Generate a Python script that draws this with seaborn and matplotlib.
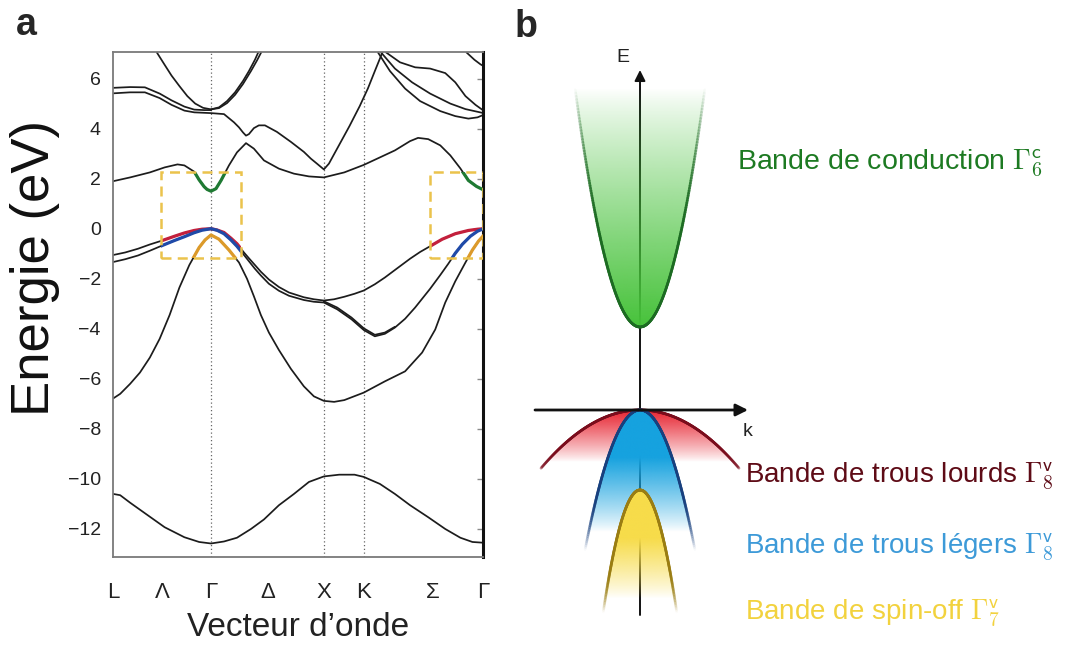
import numpy as np
import pandas as pd
import matplotlib
matplotlib.use("Agg")
import matplotlib.pyplot as plt
import seaborn as sns
from matplotlib.patches import Rectangle, Polygon
from matplotlib.collections import LineCollection
from matplotlib.colors import to_rgb, to_rgba

# ---------------- data : panel a (band structure) ----------------
sym_labels = ["L", "Λ", "Γ", "Δ", "X", "K", "Σ", "Γ"]
sym_pos = [0.0, 0.433, 0.866, 1.366, 1.866, 2.220, 2.83, 3.281]
vline_pos = [0.866, 1.866, 2.220, 3.281]
y_ticks = [-12, -10, -8, -6, -4, -2, 0, 2, 4, 6]

k_s = [0, .061, .149, .280, .455, .630, .761, .866, .981, 1.096, 1.220, 1.335, 1.468, 1.601,
       1.734, 1.866, 2.002, 2.138, 2.220, 2.363, 2.496, 2.630, 2.791, 2.942, 3.076, 3.183, 3.281]
E_s = [-10.6, -10.65, -10.95, -11.37, -11.93, -12.33, -12.52, -12.58, -12.5, -12.35, -12.0, -11.62,
       -11.05, -10.6, -10.12, -9.9, -9.83, -9.83, -9.92, -10.2, -10.6, -11.05, -11.53, -12.0,
       -12.35, -12.52, -12.55]

k_so = [0, .061, .149, .236, .324, .411, .499, .586, .674, .761, .813, .866, .937, 1.025, 1.114,
        1.185, 1.246, 1.308, 1.379, 1.468, 1.574, 1.689, 1.778, 1.866, 1.957, 2.047, 2.220, 2.407,
        2.586, 2.737, 2.853, 2.942, 3.031, 3.121, 3.183, 3.236, 3.281]
E_so = [-6.78, -6.6, -6.2, -5.75, -5.15, -4.4, -3.45, -2.35, -1.45, -0.75, -0.45, -0.25, -0.42,
        -0.85, -1.35, -2.0, -2.7, -3.45, -4.15, -4.85, -5.6, -6.3, -6.7, -6.88, -6.92, -6.85,
        -6.55, -6.1, -5.7, -4.95, -4.03, -2.95, -2.1, -1.35, -0.85, -0.5, -0.27]

k_hh = [0, .105, .219, .324, .429, .543, .630, .717, .787, .866,
        .919, .981, 1.043, 1.096, 1.158, 1.202, 1.255, 1.308, 1.379, 1.468, 1.557, 1.689, 1.778, 1.866,
        1.957, 2.047, 2.138, 2.220, 2.318, 2.407, 2.496, 2.630, 2.719, 2.808, 2.915, 3.031, 3.147,
        3.228, 3.281]
E_hh = [-1.05, -0.95, -0.8, -0.63, -0.48, -0.3, -0.17, -0.07, -0.02, 0,
        -0.05, -0.15, -0.38, -0.6, -0.95, -1.18, -1.45, -1.72, -2.03, -2.33, -2.55, -2.74, -2.82, -2.87,
        -2.82, -2.72, -2.6, -2.47, -2.22, -1.95, -1.65, -1.2, -0.93, -0.7, -0.42, -0.2, -0.07,
        -0.02, 0]

k_lh = [0, .105, .219, .324, .429, .543, .630, .717, .787, .866,
        .919, .981, 1.043, 1.096, 1.158, 1.202, 1.255, 1.308, 1.379, 1.468, 1.557, 1.689, 1.778, 1.866,
        1.984, 2.111, 2.220, 2.318, 2.407, 2.496, 2.586, 2.675, 2.737, 2.808, 2.898, 2.969, 3.031,
        3.094, 3.165, 3.228, 3.281]
E_lh = [-1.33, -1.22, -1.07, -0.88, -0.68, -0.47, -0.32, -0.16, -0.06, 0,
        -0.06, -0.2, -0.45, -0.7, -1.05, -1.3, -1.6, -1.87, -2.2, -2.48, -2.68, -2.85, -2.92, -2.95,
        -3.22, -3.62, -4.05, -4.3, -4.2, -3.95, -3.6, -3.15, -2.8, -2.4, -1.85, -1.4, -0.98,
        -0.62, -0.3, -0.1, 0]

k_lh2 = [1.866, 1.984, 2.111, 2.220, 2.318, 2.407, 2.496]
E_lh2 = [-2.9, -3.15, -3.55, -3.98, -4.24, -4.15, -3.92]

k_c1 = [0, .149, .324, .455, .569, .630, .717, .761, .805, .831, .866, .910, .955, 1.025, 1.096,
        1.176, 1.246, 1.335, 1.468, 1.601, 1.734, 1.866, 2.047, 2.220, 2.363, 2.496, 2.630, 2.701,
        2.791, 2.898, 2.987, 3.076, 3.147, 3.219, 3.281]
E_c1 = [1.9, 2.05, 2.25, 2.45, 2.57, 2.53, 2.28, 1.95, 1.68, 1.57, 1.5, 1.6, 1.93, 2.53, 3.05,
        3.42, 3.2, 2.73, 2.4, 2.2, 2.09, 2.05, 2.25, 2.55, 2.85, 3.13, 3.5, 3.63, 3.58, 3.33, 2.93,
        2.41, 1.93, 1.69, 1.55]

k_c2 = [0, .149, .280, .411, .516, .630, .717, .866, .981, 1.070, 1.114, 1.149, 1.176, 1.202, 1.246,
        1.290, 1.344, 1.450, 1.574, 1.689, 1.751, 1.805, 1.866, 1.911, 2.002, 2.093, 2.184, 2.256,
        2.318, 2.363, 2.398]
E_c2 = [5.41, 5.45, 5.45, 5.22, 4.95, 4.72, 4.65, 4.62, 4.58, 4.25, 4.05, 3.85, 3.72, 3.78, 4.02,
        4.13, 4.13, 3.87, 3.47, 3.07, 2.8, 2.6, 2.37, 2.6, 3.35, 4.1, 4.9, 5.6, 6.3, 6.8, 7.2]

k_c2b = [0, .149, .280, .411, .516, .630, .717, .805, .866]
E_c2b = [5.63, 5.66, 5.65, 5.4, 5.13, 4.88, 4.76, 4.74, 4.74]

k_c3 = [.385, .455, .516, .586, .656, .726, .796, .866, .937, 1.008, 1.079, 1.149, 1.202, 1.255, 1.290]
E_c3 = [7.05, 6.55, 6.12, 5.7, 5.3, 5.0, 4.83, 4.77, 4.85, 5.1, 5.45, 5.9, 6.3, 6.75, 7.1]

k_c3b = [.866, .937, 1.008, 1.079, 1.149, 1.220, 1.273, 1.317]
E_c3b = [4.77, 4.82, 5.02, 5.35, 5.78, 6.3, 6.72, 7.1]

k_u1 = [2.345, 2.452, 2.586, 2.719, 2.898, 3.031, 3.147, 3.228, 3.281]
E_u1 = [7.05, 6.3, 5.6, 5.1, 4.7, 4.5, 4.4, 4.45, 4.55]
k_u2 = [2.372, 2.496, 2.648, 2.808, 2.987, 3.121, 3.281]
E_u2 = [7.05, 6.4, 5.85, 5.4, 5.0, 4.78, 4.62]
k_u3 = [2.416, 2.541, 2.675, 2.808, 2.942, 3.031, 3.121, 3.210, 3.281]
E_u3 = [7.05, 6.65, 6.45, 6.4, 6.22, 5.85, 5.3, 4.95, 4.72]
k_u4 = [3.129, 3.201, 3.254, 3.281]
E_u4 = [7.05, 6.75, 6.57, 6.5]

# highlighted regions (k range) and energy window
box_k = [(0.42, 1.131), (2.808, 3.281)]
box_E = (-1.17, 2.28)
highlight = {"c1": "#1f7a33", "hh": "#c3203c", "lh": "#1f4aa8", "so": "#dc9a2a"}

# ---------------- data : panel b (schematic) ----------------
pb_text = ["Bande de conduction", "Bande de trous lourds", "Bande de trous légers",
           "Bande de spin-off"]
pb_sym = [r"$\Gamma_6^{\mathsf{c}}$", r"$\Gamma_8^{\mathsf{v}}$", r"$\Gamma_8^{\mathsf{v}}$",
          r"$\Gamma_7^{\mathsf{v}}$"]
pb_edge = [83.0, 0.0, 0.0, -80.0]           # band extremum (schematic units)
pb_curv = [0.05658, -0.00594, -0.0463, -0.0903]
pb_kmax = [67.0, 99.0, 56.0, 37.0]
pb_fade_full = [83.0, -4.0, -48.0, -128.0]   # energy where colour is full
pb_fade_zero = [322.0, -52.0, -122.0, -188.0]  # energy where colour vanishes

# ---------------- styling ----------------
sns.set_theme(style="white")
plt.rcParams["font.family"] = ["Liberation Sans", "DejaVu Sans"]
plt.rcParams["axes.unicode_minus"] = True

W, H = 1078, 645
fig = plt.figure(figsize=(W / 100, H / 100), dpi=100)

# ================= panel a =================
ax = fig.add_axes([113.3 / W, 1 - 556.5 / H, 370.2 / W, 504.2 / H])

bands = {
    "s": (k_s, E_s), "so": (k_so, E_so), "hh": (k_hh, E_hh), "lh": (k_lh, E_lh),
    "lh2": (k_lh2, E_lh2), "c1": (k_c1, E_c1), "c2": (k_c2, E_c2), "c2b": (k_c2b, E_c2b),
    "c3": (k_c3, E_c3), "c3b": (k_c3b, E_c3b), "u1": (k_u1, E_u1), "u2": (k_u2, E_u2),
    "u3": (k_u3, E_u3), "u4": (k_u4, E_u4),
}
df = pd.concat([pd.DataFrame({"k": kk, "E": ee, "band": name}) for name, (kk, ee) in bands.items()],
               ignore_index=True)

for kv in vline_pos:
    ax.axvline(kv, color="#666666", ls=(0, (1, 2)), lw=0.9, zorder=0)

sns.lineplot(data=df, x="k", y="E", units="band", estimator=None, sort=False,
             color="#1c1c1c", lw=1.25, ax=ax, legend=False, zorder=2)

for (k0, k1) in box_k:
    for name, col in highlight.items():
        sub = df[df["band"] == name]
        n_before = len(ax.lines)
        sns.lineplot(data=sub, x="k", y="E", estimator=None, sort=False, color=col,
                     lw=2.3, ax=ax, legend=False, zorder=3)
        clip = Rectangle((k0, box_E[0]), k1 - k0, box_E[1] - box_E[0], transform=ax.transData)
        for ln in ax.lines[n_before:]:
            ln.set_clip_path(clip)
    ax.add_patch(Rectangle((k0, box_E[0]), k1 - k0, box_E[1] - box_E[0], fill=False,
                           ec="#ebc34c", lw=1.8, ls=(0, (4, 2.5)), zorder=4))

ax.set_xlim(0, 3.281)
ax.set_ylim(-13.1, 7.05)
ax.set_xticks(sym_pos)
ax.set_xticklabels(sym_labels)
ax.set_yticks(y_ticks)
ax.set_yticklabels([f"{v}".replace("-", "−") for v in y_ticks])
ax.tick_params(axis="y", direction="in", length=4, width=1, color="#8a8a8a", labelsize=14,
               pad=9, right=True, labelcolor="#222222")
ax.tick_params(axis="x", length=0, labelsize=16, pad=18, labelcolor="#222222")
for side in ["left", "top", "bottom"]:
    ax.spines[side].set_color("#7a7a7a")
    ax.spines[side].set_linewidth(1.3)
ax.spines["right"].set_color("#111111")
ax.spines["right"].set_linewidth(2.2)
ax.set_xlabel("Vecteur d’onde", fontsize=24, labelpad=7, color="#222222")
ax.set_ylabel("Energie (eV)", fontsize=38, color="#111111")
ax.yaxis.set_label_coords(-0.145, 0.572)

fig.text(26 / W, 1 - 25 / H, "a", fontsize=27, fontweight="bold", ha="center", va="center")
fig.text(526 / W, 1 - 27 / H, "b", fontsize=27, fontweight="bold", ha="center", va="center")

# ================= panel b =================
axb = fig.add_axes([520 / W, 1 - 640 / H, 250 / W, 600 / H])
axb.set_axis_off()

fill_cols = ["#46c23a", "#e8303c", "#16a2df", "#f7dc4a"]
edge_cols = ["#1c6b22", "#7a0c1c", "#18407e", "#9a7d12"]
edge_boost = [1.6, 1.3, 1.6, 1.6]
edge_floor = [0.0, 0.25, 0.0, 0.0]
edge_zero_shift = [0.0, 14.0, 18.0, 14.0]
zorders = [2, 2, 3, 4]

# vertical axis (under the fills)
axb.annotate("", xy=(0, 340), xytext=(0, -205),
             arrowprops=dict(arrowstyle="-|>", color="#111111", lw=1.4, mutation_scale=16,
                             shrinkA=0, shrinkB=0), zorder=1)

for i in range(4):
    kk = np.linspace(-pb_kmax[i], pb_kmax[i], 300)
    ee = pb_edge[i] + pb_curv[i] * kk ** 2
    poly = Polygon(np.column_stack([kk, ee]), closed=True, transform=axb.transData,
                   fc="none", ec="none")
    axb.add_patch(poly)
    lo, hi = min(ee.min(), pb_edge[i]), max(ee.max(), pb_edge[i])
    eg = np.linspace(lo, hi, 300)
    a = np.clip((eg - pb_fade_zero[i]) / (pb_fade_full[i] - pb_fade_zero[i]), 0, 1) ** 0.85
    rgba = np.zeros((300, 2, 4))
    rgba[..., :3] = to_rgb(fill_cols[i])
    rgba[..., 3] = a[:, None]
    im = axb.imshow(rgba, extent=[-pb_kmax[i], pb_kmax[i], lo, hi], origin="lower",
                    aspect="auto", interpolation="bilinear", zorder=zorders[i])
    im.set_clip_path(poly)
    pts = np.column_stack([kk, ee]).reshape(-1, 1, 2)
    segs = np.concatenate([pts[:-1], pts[1:]], axis=1)
    em = 0.5 * (ee[:-1] + ee[1:])
    z0 = pb_fade_zero[i] - edge_zero_shift[i]
    alin = np.clip((em - z0) / (pb_fade_full[i] - z0), 0, 1)
    ea = np.clip(alin * edge_boost[i] + edge_floor[i] * (alin > 0), 0, 1)
    cols = np.tile(np.array(to_rgba(edge_cols[i])), (len(segs), 1))
    cols[:, 3] = ea
    axb.add_collection(LineCollection(segs, colors=cols, linewidths=2.0,
                                      zorder=zorders[i] + 0.5, capstyle="round"))

# horizontal k axis on top
axb.annotate("", xy=(108, 0), xytext=(-105, 0),
             arrowprops=dict(arrowstyle="-|>", color="#111111", lw=2.0, mutation_scale=18,
                             shrinkA=0, shrinkB=0), zorder=6)
axb.text(-17, 353, "E", fontsize=14, ha="center", va="center", color="#222222")
axb.text(108, -22, "k", fontsize=14, ha="center", va="center", color="#222222")
axb.set_xlim(-120, 130)
axb.set_ylim(-230, 370)

txt_cols = ["#1d7a22", "#5e0b16", "#3d9ad8", "#f2d23e"]
txt_x = [737, 745, 745, 745]
txt_y = [163, 476, 547, 613]
txt_size = [20.5, 20, 20, 20]
for t, s, c, x, y, fs in zip(pb_text, pb_sym, txt_cols, txt_x, txt_y, txt_size):
    fig.text(x / W, 1 - y / H, t + " " + s, fontsize=fs, color=c, ha="left", va="center",
             math_fontfamily="cm")

fig.savefig("out.png", dpi=100)
